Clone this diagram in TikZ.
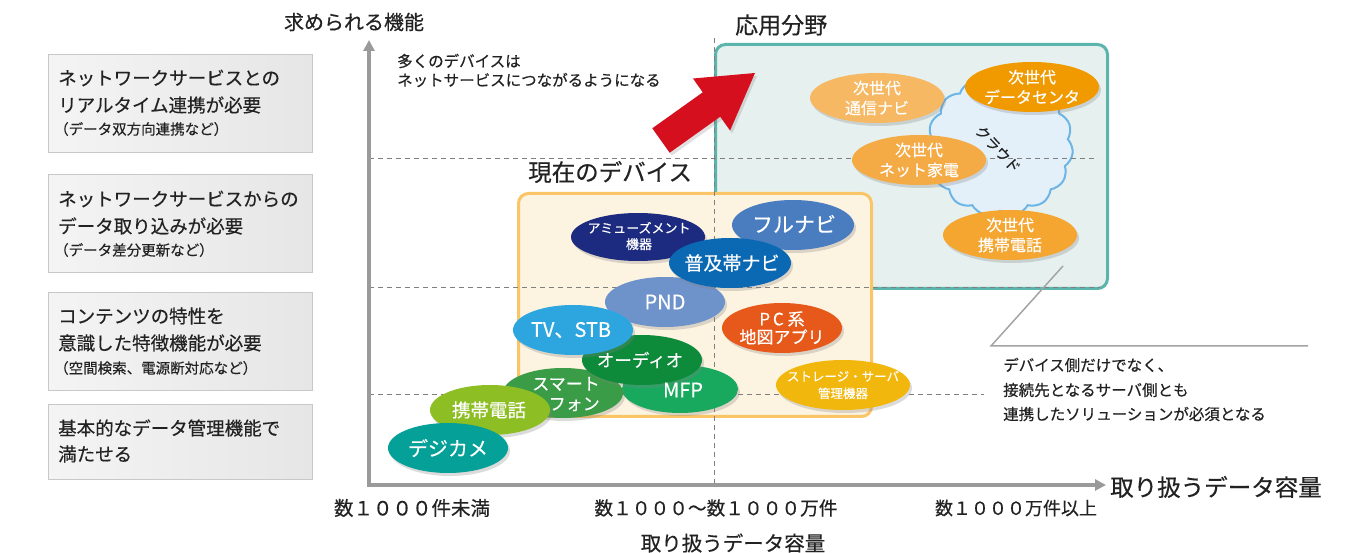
\documentclass[tikz,border=0pt]{standalone}
\usepackage{fontspec}
\setmainfont{Noto Sans CJK JP}[FakeBold=0.4]
\usetikzlibrary{shapes.geometric,shapes.symbols,shadows,arrows.meta}
\definecolor{axisgray}{HTML}{9A9A9A}
\definecolor{dashgray}{HTML}{7F7F7F}
\definecolor{tealedge}{HTML}{5BB5AC}
\definecolor{tealfill}{HTML}{E6F1EF}
\definecolor{orgedge}{HTML}{F9C567}
\definecolor{orgfill}{HTML}{FDF3E1}
\definecolor{boxL}{HTML}{F4F4F4}
\definecolor{boxR}{HTML}{E6E6E6}
\definecolor{boxB}{HTML}{C8C8C8}
\definecolor{redarrow}{HTML}{D50F1E}
\definecolor{cloudfill}{HTML}{E3F0FA}
\definecolor{cloudedge}{HTML}{6CB5E6}
\definecolor{txt}{HTML}{222222}
\definecolor{cFull}{HTML}{4A7DC0}
\definecolor{cAmu}{HTML}{1C2B7F}
\definecolor{cPND}{HTML}{6E93CB}
\definecolor{cFukyu}{HTML}{0B69B3}
\definecolor{cMFP}{HTML}{19A95E}
\definecolor{cSmart}{HTML}{3A9C47}
\definecolor{cAudio}{HTML}{0E8A3B}
\definecolor{cTV}{HTML}{2DA6DF}
\definecolor{cKeitai}{HTML}{8DBE23}
\definecolor{cDeji}{HTML}{05A097}
\definecolor{cPC}{HTML}{E6591A}
\definecolor{cStor}{HTML}{F2B70D}
\definecolor{cTsu}{HTML}{F6B862}
\definecolor{cDC}{HTML}{F19A00}
\definecolor{cKaden}{HTML}{F5AB45}
\definecolor{cKei2}{HTML}{F4A630}
\newcommand{\fsz}[2]{\fontsize{#1}{#2}\selectfont}
\begin{document}
\begin{tikzpicture}[x=1pt,y=-1pt,
  lbox/.style={draw=boxB, line width=0.8pt, left color=boxL, right color=boxR, minimum width=264pt, anchor=north west, inner sep=0pt},
  ltext/.style={anchor=west, inner sep=0pt, text=txt, font=\fsz{18.5}{22}},
  lsub/.style={anchor=west, inner sep=0pt, text=txt, font=\fsz{14.5}{17}},
  axis/.style={draw=axisgray, line width=3.5pt, -{Triangle[length=11pt,width=11pt]}},
  gdash/.style={draw=dashgray, line width=1pt, dash pattern=on 5pt off 4pt},
  dev/.style={fill=#1, drop shadow={shadow xshift=2pt, shadow yshift=-3pt, opacity=0.28}},
  devtxt/.style={text=white, align=center, inner sep=0pt},
  plain/.style={inner sep=0pt, text=txt}
]
\fill[white] (0,0) rectangle (1353,553);
\useasboundingbox (0,0) rectangle (1353,553);

% left boxes
\node[lbox, minimum height=98pt] (b1) at (48,54) {};
\node[lbox, minimum height=98pt] (b2) at (48,174) {};
\node[lbox, minimum height=98pt] (b3) at (48,292) {};
\node[lbox, minimum height=75pt] (b4) at (48,404) {};
\node[ltext] (t1a) at (58,78) {ネットワークサービスとの};
\node[ltext] (t1b) at (58,105) {リアルタイム連携が必要};
\node[lsub] (t1c) at (54,129) {（データ双方向連携など）};
\node[ltext] (t2a) at (58,199) {ネットワークサービスからの};
\node[ltext] (t2b) at (58,226) {データ取り込みが必要};
\node[lsub] (t2c) at (54,250) {（データ差分更新など）};
\node[ltext] (t3a) at (58,316) {コンテンツの特性を};
\node[ltext] (t3b) at (58,343) {意識した特徴機能が必要};
\node[lsub] (t3c) at (54,368) {（空間検索、電源断対応など）};
\node[ltext] (t4a) at (58,428) {基本的なデータ管理機能で};
\node[ltext] (t4b) at (58,454) {満たせる};

% application area box
\node[draw=tealedge, fill=tealfill, line width=3pt, rounded corners=10pt, minimum width=392pt, minimum height=244pt, anchor=north west, inner sep=0pt] (app) at (714,43) {};
% current devices box
\node[draw=orgedge, fill=orgfill, line width=3pt, rounded corners=10pt, minimum width=353pt, minimum height=223pt, anchor=north west, inner sep=0pt] (cur) at (517,192) {};

% cloud
\node[cloud, cloud puffs=15, cloud puff arc=100, aspect=1.0, draw=cloudedge, fill=cloudfill, line width=2pt, minimum width=146pt, minimum height=140pt, inner sep=0pt] (cloud) at (1000,146) {};

% dashed grid
\coordinate (v1) at (714,38);
\coordinate (v2) at (714,485);
\coordinate (h1a) at (369,159);
\coordinate (h1b) at (1098,159);
\coordinate (h2a) at (369,288);
\coordinate (h2b) at (1100,288);
\coordinate (h3a) at (369,395);
\coordinate (h3b) at (984,395);
\draw[gdash] (v1) -- (v2);
\draw[gdash] (h1a) -- (h1b);
\draw[gdash] (h2a) -- (h2b);
\draw[gdash] (h3a) -- (h3b);

% axes
\coordinate (origin) at (369,487);
\coordinate (ytop) at (369,40);
\coordinate (xend) at (1106,485);
\coordinate (xstart) at (367.25,485);
\draw[axis] (origin) -- (ytop);
\draw[axis] (xstart) -- (xend);

% red arrow
\fill[redarrow, drop shadow={shadow xshift=2pt, shadow yshift=-3pt, opacity=0.25}]
  (652.3,128.3) -- (702.8,92.3) -- (693,78.5) -- (755,73) -- (730.1,130.5) -- (720.2,116.7) -- (669.7,152.7) -- cycle;

% device ellipses
\path[dev=cFull] (793,225) ellipse [x radius=61, y radius=25];
\path[dev=cAmu] (638,237) ellipse [x radius=67, y radius=24];
\path[dev=cPND] (665,302) ellipse [x radius=60, y radius=25];
\path[dev=cFukyu] (730,263) ellipse [x radius=61, y radius=25];
\path[dev=cMFP] (680,389) ellipse [x radius=58, y radius=24];
\path[dev=cSmart] (563,393) ellipse [x radius=60, y radius=25];
\path[dev=cAudio] (642,360) ellipse [x radius=60, y radius=25];
\path[dev=cTV] (573,330) ellipse [x radius=60, y radius=25];
\path[dev=cKeitai] (490,410) ellipse [x radius=60, y radius=25];
\path[dev=cDeji] (448,448) ellipse [x radius=60, y radius=25];
\path[dev=cPC] (782,328) ellipse [x radius=60, y radius=25];
\path[dev=cStor] (843,385) ellipse [x radius=67, y radius=25];
\path[dev=cTsu] (877,98) ellipse [x radius=67, y radius=25];
\path[dev=cDC] (1032,87) ellipse [x radius=67, y radius=25];
\path[dev=cKaden] (919,160) ellipse [x radius=67, y radius=25];
\path[dev=cKei2] (1010,235) ellipse [x radius=67, y radius=25];

\node[devtxt, font=\fsz{21}{24}] (lFull) at (794,224) {フルナビ};
\node[devtxt, font=\fsz{13}{16}] (lAmu) at (639,236) {アミューズメント\\機器};
\node[devtxt, font=\fsz{20}{24}] (lPND) at (665,302) {PND};
\node[devtxt, font=\fsz{19}{22}] (lFukyu) at (732,263) {普及帯ナビ};
\node[devtxt, font=\fsz{20}{24}] (lMFP) at (683,390) {MFP};
\node[devtxt, font=\fsz{17}{20}, align=right] (lSmart) at (566,394) {スマート\\フォン};
\node[devtxt, font=\fsz{17.5}{20}] (lAudio) at (640,360) {オーディオ};
\node[devtxt, font=\fsz{20}{24}] (lTV) at (571,330) {TV、STB};
\node[devtxt, font=\fsz{18.5}{22}] (lKeitai) at (489,410) {携帯電話};
\node[devtxt, font=\fsz{20}{24}] (lDeji) at (448,448) {デジカメ};
\node[devtxt, font=\fsz{17}{18}] (lPC) at (782,328) {P\,C 系\\地図アプリ};
\node[devtxt, font=\fsz{12.5}{17}] (lStor) at (843,385) {ストレージ・サーバ\\管理機器};
\node[devtxt, font=\fsz{16}{20}] (lTsu) at (877,98) {次世代\\通信ナビ};
\node[devtxt, font=\fsz{16}{20}] (lDC) at (1032,87) {次世代\\データセンタ};
\node[devtxt, font=\fsz{16}{20}] (lKaden) at (919,160) {次世代\\ネット家電};
\node[devtxt, font=\fsz{16}{20}] (lKei2) at (1010,235) {次世代\\携帯電話};
\node[plain, font=\fsz{14.5}{17}, rotate=-47] (lCloud) at (998,149) {クラウド};

% callout
\coordinate (c1) at (1063,266);
\coordinate (c2) at (991,346);
\coordinate (c3) at (1308,346);
\draw[draw=axisgray!90, line width=1.5pt] (c1) -- (c2) -- (c3);
\node[plain, anchor=west, font=\fsz{15.5}{18}] (n1) at (1003,365) {デバイス側だけでなく、};
\node[plain, anchor=west, font=\fsz{15.5}{18}] (n2) at (1003,390) {接続先となるサーバ側とも};
\node[plain, anchor=west, font=\fsz{15.5}{18}] (n3) at (1003,414) {連携したソリューションが必須となる};

% titles
\node[plain, font=\fsz{20}{24}] (ytitle) at (354,22) {求められる機能};
\node[plain, anchor=west, font=\fsz{23.5}{26}] (xtitle) at (1110,487) {取り扱うデータ容量};
\node[plain, anchor=west, font=\fsz{23}{26}] (apptitle) at (735,25) {応用分野};
\node[plain, anchor=west, font=\fsz{23.5}{26}] (curtitle) at (528,172) {現在のデバイス};
\node[plain, anchor=west, font=\fsz{15.5}{18}] (m1) at (397,61) {多くのデバイスは};
\node[plain, anchor=west, font=\fsz{15.5}{18}] (m2) at (397,80) {ネットサービスにつながるようになる};

% bottom labels
\node[plain, font=\fsz{19.5}{22}] (x1) at (412,508) {数１０００件未満};
\node[plain, font=\fsz{18.7}{22}] (x2) at (716,508) {数１０００〜数１０００万件};
\node[plain, font=\fsz{18}{22}] (x3) at (1016,508) {数１０００万件以上};
\node[plain, font=\fsz{20.5}{24}] (xbot) at (733,543) {取り扱うデータ容量};
\end{tikzpicture}
\end{document}
